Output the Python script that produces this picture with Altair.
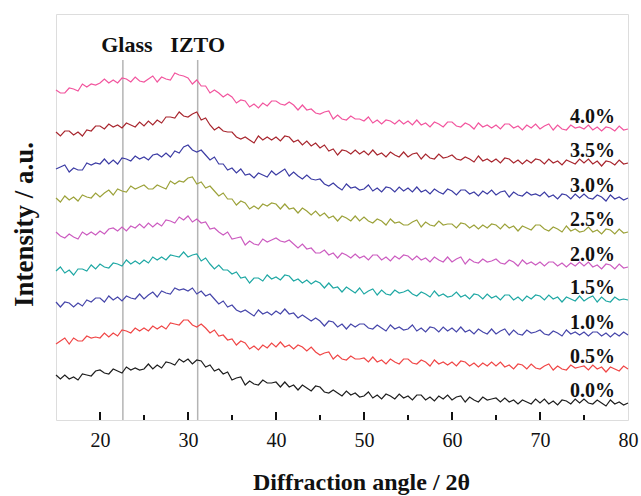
import altair as alt
import pandas as pd

# Diffraction angle grid (2θ, degrees), 0.5° steps from 15 to 80
two_theta = [15 + 0.5 * i for i in range(131)]

samples = ["0.0%", "0.5%", "1.0%", "1.5%", "2.0%", "2.5%", "3.0%", "3.5%", "4.0%"]
colors = ["#1e1e1e", "#f04646", "#4646aa", "#1fa8a4", "#cc5cc0",
          "#9ca23a", "#3c3ca4", "#a8262e", "#f2559e"]

# Stacked intensity traces (a.u., vertically offset per Zn doping level)
i_00 = [45, 41, 45, 41, 43, 40, 46, 45, 44, 49,
        50, 47, 46, 51, 49, 47, 53, 50, 52, 50,
        51, 56, 51, 55, 52, 58, 57, 55, 61, 58,
        61, 56, 60, 59, 53, 55, 49, 51, 46, 48,
        40, 42, 43, 35, 39, 36, 35, 40, 37, 37,
        38, 33, 38, 33, 35, 30, 35, 32, 29, 34,
        33, 28, 27, 30, 27, 24, 29, 25, 27, 23,
        24, 28, 22, 25, 21, 26, 24, 21, 26, 22,
        24, 20, 25, 25, 20, 23, 19, 24, 21, 25,
        20, 23, 24, 18, 23, 20, 18, 23, 20, 21,
        22, 18, 22, 18, 20, 16, 20, 18, 16, 21,
        17, 21, 16, 19, 15, 20, 19, 16, 21, 17,
        21, 17, 16, 20, 17, 14, 20, 16, 18, 15,
        17]
i_05 = [76, 79, 82, 76, 82, 79, 79, 84, 82, 83,
        82, 87, 83, 87, 84, 90, 89, 87, 92, 89,
        92, 89, 94, 91, 94, 91, 97, 96, 95, 100,
        100, 95, 93, 96, 92, 87, 90, 84, 85, 80,
        81, 75, 79, 77, 71, 74, 70, 75, 72, 77,
        73, 78, 73, 75, 71, 75, 73, 69, 73, 68,
        65, 67, 68, 61, 65, 61, 60, 64, 61, 61,
        62, 58, 63, 58, 60, 56, 61, 58, 56, 61,
        61, 57, 56, 60, 58, 54, 60, 56, 58, 55,
        58, 54, 59, 58, 54, 57, 53, 57, 54, 58,
        54, 58, 53, 55, 51, 56, 55, 51, 56, 52,
        51, 54, 56, 50, 54, 51, 50, 55, 52, 53,
        54, 50, 55, 51, 53, 48, 53, 51, 49, 54,
        51]
i_10 = [118, 113, 118, 117, 113, 117, 114, 120, 118, 122,
        122, 118, 124, 120, 123, 119, 124, 122, 121, 126,
        121, 125, 128, 123, 129, 127, 126, 132, 130, 131,
        129, 132, 126, 129, 124, 126, 121, 116, 119, 113,
        115, 110, 108, 110, 107, 104, 110, 106, 108, 105,
        109, 106, 111, 106, 107, 102, 105, 102, 99, 102,
        99, 94, 99, 98, 93, 96, 91, 96, 93, 96,
        96, 92, 91, 95, 92, 89, 95, 91, 93, 90,
        91, 95, 89, 92, 88, 93, 92, 88, 93, 89,
        92, 88, 93, 88, 90, 86, 91, 88, 86, 91,
        86, 89, 91, 85, 90, 86, 85, 90, 87, 88,
        90, 86, 85, 89, 87, 84, 90, 86, 88, 85,
        88, 84, 88, 88, 84, 87, 83, 87, 84, 88,
        85]
i_15 = [149, 153, 147, 150, 145, 151, 151, 149, 155, 151,
        156, 153, 152, 157, 156, 154, 160, 156, 159, 156,
        160, 157, 163, 160, 163, 160, 165, 164, 163, 168,
        163, 165, 166, 159, 162, 156, 151, 155, 150, 150,
        146, 148, 142, 143, 137, 142, 142, 139, 145, 141,
        143, 140, 145, 144, 139, 141, 137, 140, 136, 139,
        137, 132, 137, 132, 133, 128, 133, 130, 127, 132,
        126, 129, 131, 125, 130, 126, 125, 130, 127, 128,
        130, 126, 124, 128, 126, 123, 129, 124, 126, 123,
        124, 128, 123, 125, 121, 126, 125, 121, 126, 122,
        124, 120, 125, 125, 120, 123, 119, 124, 121, 125,
        124, 120, 125, 121, 123, 118, 123, 121, 119, 124,
        119, 122, 124, 118, 123, 119, 118, 123, 120, 121,
        120]
i_20 = [188, 184, 182, 186, 183, 181, 188, 185, 188, 185,
        189, 186, 191, 192, 189, 193, 189, 194, 192, 196,
        192, 197, 193, 197, 194, 200, 199, 197, 203, 200,
        204, 198, 201, 197, 198, 191, 192, 188, 185, 188,
        181, 182, 183, 175, 179, 176, 175, 181, 178, 180,
        182, 179, 178, 180, 176, 172, 176, 171, 172, 167,
        167, 170, 165, 167, 162, 167, 165, 162, 166, 162,
        164, 160, 165, 165, 160, 163, 159, 164, 161, 165,
        164, 160, 164, 160, 162, 158, 163, 160, 158, 163,
        158, 161, 163, 156, 161, 158, 157, 161, 158, 159,
        161, 157, 156, 160, 158, 154, 160, 156, 158, 155,
        158, 154, 158, 158, 154, 157, 153, 157, 154, 158,
        154, 158, 153, 155, 151, 156, 155, 151, 156, 152,
        153]
i_25 = [222, 218, 224, 220, 223, 219, 225, 223, 222, 227,
        223, 227, 230, 225, 231, 229, 228, 234, 231, 233,
        235, 231, 231, 235, 233, 231, 239, 236, 239, 238,
        242, 243, 236, 238, 232, 234, 229, 224, 227, 221,
        221, 215, 219, 217, 211, 214, 211, 216, 214, 217,
        216, 211, 216, 211, 212, 207, 212, 209, 205, 209,
        204, 207, 202, 204, 199, 204, 202, 199, 204, 199,
        203, 199, 197, 201, 199, 195, 201, 197, 198, 195,
        195, 198, 200, 193, 198, 195, 194, 199, 195, 196,
        196, 192, 197, 196, 192, 195, 191, 195, 192, 196,
        195, 191, 196, 192, 194, 189, 194, 192, 190, 195,
        195, 191, 189, 193, 191, 188, 194, 189, 191, 188,
        189, 193, 188, 190, 186, 191, 190, 186, 191, 187,
        188]
i_30 = [251, 253, 255, 248, 252, 250, 250, 257, 255, 257,
        256, 261, 256, 260, 256, 262, 261, 259, 264, 261,
        263, 260, 265, 266, 263, 267, 263, 269, 267, 273,
        275, 270, 268, 270, 265, 260, 263, 256, 256, 250,
        252, 247, 251, 245, 246, 242, 247, 245, 243, 249,
        245, 248, 251, 244, 248, 244, 241, 245, 241, 240,
        241, 236, 234, 237, 233, 230, 236, 232, 233, 230,
        231, 235, 229, 232, 228, 233, 232, 228, 233, 229,
        232, 228, 233, 228, 230, 226, 231, 228, 226, 231,
        229, 225, 230, 230, 226, 228, 224, 229, 226, 230,
        225, 228, 229, 223, 228, 225, 224, 228, 225, 226,
        224, 228, 223, 225, 221, 226, 225, 221, 226, 222,
        226, 222, 221, 225, 223, 219, 225, 221, 223, 220,
        222]
i_35 = [288, 284, 289, 289, 285, 288, 284, 290, 289, 294,
        294, 291, 296, 293, 295, 292, 297, 295, 293, 298,
        294, 299, 295, 300, 297, 303, 303, 302, 308, 304,
        303, 306, 308, 300, 302, 295, 290, 293, 289, 288,
        288, 283, 281, 283, 280, 277, 284, 280, 283, 280,
        283, 279, 284, 283, 278, 280, 275, 279, 274, 277,
        272, 275, 269, 271, 265, 270, 269, 266, 270, 266,
        269, 265, 270, 265, 267, 263, 268, 265, 263, 268,
        263, 266, 267, 261, 266, 262, 261, 266, 262, 263,
        265, 261, 260, 263, 261, 258, 264, 259, 261, 258,
        261, 257, 262, 261, 257, 260, 256, 260, 257, 261,
        260, 256, 261, 257, 259, 255, 260, 258, 256, 261,
        257, 261, 256, 259, 254, 259, 258, 255, 260, 256,
        257]
i_40 = [330, 327, 327, 332, 331, 329, 336, 333, 336, 335,
        337, 341, 337, 340, 337, 342, 341, 338, 343, 339,
        338, 341, 344, 338, 343, 341, 340, 347, 345, 344,
        342, 336, 340, 334, 334, 327, 330, 327, 323, 326,
        323, 317, 320, 319, 313, 316, 312, 317, 314, 319,
        319, 316, 315, 318, 315, 310, 315, 310, 311, 307,
        306, 308, 309, 301, 305, 301, 300, 304, 301, 301,
        299, 303, 297, 300, 296, 300, 299, 296, 300, 296,
        299, 295, 300, 295, 297, 293, 298, 296, 293, 298,
        298, 294, 293, 297, 295, 291, 297, 293, 295, 292,
        295, 291, 296, 296, 292, 294, 290, 295, 292, 296,
        291, 294, 296, 290, 295, 291, 290, 295, 292, 293,
        291, 295, 290, 293, 289, 293, 292, 289, 294, 290,
        291]

traces = [i_00, i_05, i_10, i_15, i_20, i_25, i_30, i_35, i_40]

# Reference peak positions (2θ) for the glass substrate and IZTO film
glass_peak = 22.6
izto_peak = 31.1

serif = "Liberation Serif"

rows = []
for name, values in zip(samples, traces):
    for x, y in zip(two_theta, values):
        rows.append({"x": x, "y": y, "sample": name})
curves = pd.DataFrame(rows)

ends = pd.DataFrame({"x": [two_theta[-1]] * len(samples),
                     "y": [v[-1] for v in traces],
                     "sample": samples})

xscale = alt.Scale(domain=[15, 80], nice=False, zero=False)
yscale = alt.Scale(domain=[0, 406], nice=False, zero=True)

x_axis = alt.Axis(values=[20, 30, 40, 50, 60, 70, 80], ticks=False, domain=False,
                  grid=False, labelFont=serif, labelFontSize=20, labelColor="#111",
                  labelPadding=10, labelFlush=False,
                  title="Diffraction angle / 2θ", titleFont=serif, titleFontSize=24,
                  titleFontWeight="bold", titleColor="#111",
                  titleX=305, titleY=69, titleBaseline="alphabetic")
y_axis = alt.Axis(labels=False, ticks=False, domain=False, grid=False,
                  title="Intensity / a.u.", titleFont=serif, titleFontSize=27,
                  titleFontWeight="bold", titleColor="#111", titleAngle=-90,
                  titleX=-24, titleY=210, titleAlign="center",
                  titleBaseline="alphabetic")

color = alt.Color("sample:N", scale=alt.Scale(domain=samples, range=colors), legend=None)

lines = alt.Chart(curves).mark_line(strokeWidth=1.2).encode(
    x=alt.X("x:Q", scale=xscale, axis=x_axis),
    y=alt.Y("y:Q", scale=yscale, axis=y_axis),
    color=color,
    detail="sample:N",
)

peaks = pd.DataFrame({"x": [glass_peak, izto_peak], "y": [0, 0], "y2": [360, 360]})
peak_rules = alt.Chart(peaks).mark_rule(color="#b4b4b4", strokeWidth=1.5).encode(
    x="x:Q", y="y:Q", y2="y2:Q"
)

glass_label = alt.Chart(pd.DataFrame({"x": [glass_peak], "y": [368], "t": ["Glass"]})).mark_text(
    font=serif, fontSize=22, fontWeight="bold", align="center", baseline="alphabetic",
    dx=4, color="#111"
).encode(x="x:Q", y="y:Q", text="t:N")
izto_label = alt.Chart(pd.DataFrame({"x": [izto_peak], "y": [368], "t": ["IZTO"]})).mark_text(
    font=serif, fontSize=22, fontWeight="bold", align="center", baseline="alphabetic",
    color="#111"
).encode(x="x:Q", y="y:Q", text="t:N")

sample_labels = alt.Chart(ends).mark_text(
    font=serif, fontSize=20, fontWeight="bold", align="right", baseline="alphabetic",
    dx=-13, dy=-6, color="#111"
).encode(x="x:Q", y="y:Q", text="sample:N")

major = pd.DataFrame({"x": [20, 30, 40, 50, 60, 70]})
minor = pd.DataFrame({"x": [25, 35, 45, 55, 65, 75]})
major_ticks = alt.Chart(major).mark_rule(color="#111", strokeWidth=2).encode(
    x="x:Q", y=alt.value(406), y2=alt.value(398)
)
minor_ticks = alt.Chart(minor).mark_rule(color="#111", strokeWidth=2).encode(
    x="x:Q", y=alt.value(406), y2=alt.value(401)
)

chart = alt.layer(
    peak_rules, lines, glass_label, izto_label, sample_labels, major_ticks, minor_ticks
).properties(
    width=572, height=406,
    padding={"left": 56, "top": 14, "right": 13, "bottom": 76},
    autosize=alt.AutoSizeParams(type="none"),
).configure_view(
    stroke="#111", strokeWidth=2.2
).configure(background="white")

chart.save("out.html", embed_options={"renderer": "svg", "actions": False})
